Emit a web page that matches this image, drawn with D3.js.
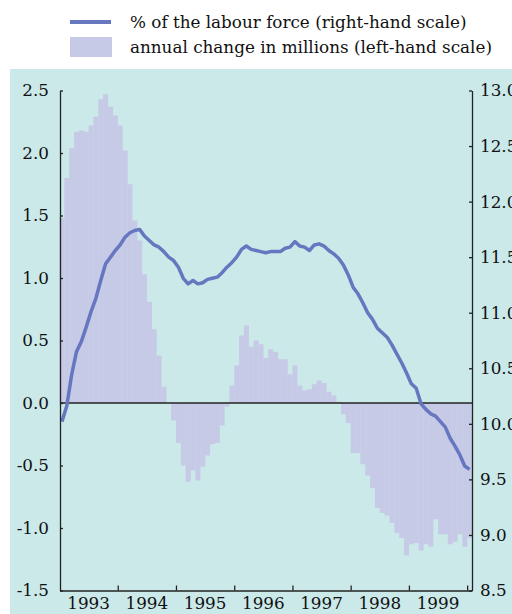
<!DOCTYPE html>
<html>
<head>
<meta charset="utf-8">
<script src="https://cdn.jsdelivr.net/npm/d3@7"></script>
<style>
  body { margin: 0; background: #fff; }
</style>
</head>
<body>
<svg id="chart" width="512" height="614"></svg>
<script>
// monthly values, Jan 1993 .. Jan 2000
var changeMillions = [1.48, 1.80, 2.04, 2.17, 2.18, 2.17, 2.22, 2.29, 2.43, 2.47, 2.37, 2.30,
  2.22, 2.02, 1.75, 1.46, 1.30, 1.03, 0.81, 0.59, 0.38, 0.13, 0.0, -0.14,
  -0.32, -0.50, -0.63, -0.54, -0.62, -0.51, -0.42, -0.33, -0.32, -0.18, -0.03, 0.14,
  0.30, 0.54, 0.62, 0.45, 0.50, 0.47, 0.36, 0.43, 0.41, 0.35, 0.35, 0.23,
  0.30, 0.14, 0.10, 0.11, 0.15, 0.18, 0.16, 0.09, 0.06, 0.01, -0.09, -0.16,
  -0.40, -0.40, -0.49, -0.58, -0.68, -0.84, -0.88, -0.90, -0.96, -1.04, -1.08, -1.22,
  -1.13, -1.12, -1.18, -1.13, -1.15, -0.93, -1.05, -1.05, -1.13, -1.11, -1.05, -1.15,
  -1.08];

var pctLabourForce = [10.02, 10.16, 10.44, 10.65, 10.74, 10.87, 11.01, 11.13, 11.29, 11.44, 11.50, 11.56,
  11.61, 11.68, 11.72, 11.74, 11.75, 11.69, 11.65, 11.61, 11.59, 11.55, 11.50, 11.47,
  11.41, 11.31, 11.26, 11.29, 11.26, 11.27, 11.30, 11.31, 11.32, 11.36, 11.41, 11.45,
  11.50, 11.57, 11.60, 11.57, 11.56, 11.55, 11.54, 11.55, 11.55, 11.55, 11.58, 11.59,
  11.64, 11.60, 11.59, 11.56, 11.61, 11.62, 11.60, 11.56, 11.53, 11.49, 11.43, 11.34,
  11.23, 11.17, 11.09, 11.00, 10.94, 10.86, 10.82, 10.78, 10.71, 10.63, 10.55, 10.46,
  10.36, 10.32, 10.18, 10.13, 10.09, 10.07, 10.02, 9.97, 9.87, 9.80, 9.72, 9.62,
  9.59];

var years = ["1993", "1994", "1995", "1996", "1997", "1998", "1999"];
var leftTicks = [2.5, 2.0, 1.5, 1.0, 0.5, 0.0, -0.5, -1.0, -1.5];
var rightTicks = [13.0, 12.5, 12.0, 11.5, 11.0, 10.5, 10.0, 9.5, 9.0, 8.5];
var legendLabels = ["% of the labour force (right-hand scale)", "annual change in millions (left-hand scale)"];

var barColor = "#c6cae6";
var lineColor = "#6677c0";
var serif = "DejaVu Serif"; // Liberation Serif didn't resolve here
var fontSize = "16.8px";

var svg = d3.select("#chart");

// panel background
svg.append("rect")
  .attr("x", 10).attr("y", 69)
  .attr("width", 502).attr("height", 545)
  .attr("fill", "#cbe9e9");

var x = d3.scaleLinear().domain([0, changeMillions.length]).range([59.5, 472]);
var yLeft = d3.scaleLinear().domain([-1.5, 2.5]).range([590.5, 90.5]);
var yRight = d3.scaleLinear().domain([8.5, 13.0]).range([590.5, 90.5]);

// bars
svg.append("g").selectAll("rect")
  .data(changeMillions)
  .enter()
  .append("rect")
  .attr("x", function(d, i) { return x(i); })
  .attr("width", function(d, i) { return x(i + 1) - x(i) + 0.2; })
  .attr("y", function(d) { return yLeft(Math.max(0, d)); })
  .attr("height", function(d) { return Math.abs(yLeft(d) - yLeft(0)); })
  .attr("fill", barColor);

// zero line
svg.append("line")
  .attr("x1", 60).attr("x2", 472)
  .attr("y1", yLeft(0)).attr("y2", yLeft(0))
  .attr("stroke", "#222").attr("stroke-width", 1.5);

// rate line (right-hand scale)
var line = d3.line()
  .x(function(d, i) { return x(i + 0.5); })
  .y(function(d) { return yRight(d); });

svg.append("path")
  .datum(pctLabourForce)
  .attr("d", line)
  .attr("fill", "none")
  .attr("stroke", lineColor)
  .attr("stroke-width", 3.5)
  .attr("stroke-linejoin", "round");

function fmt(d) { return d.toFixed(1); }

// left axis
svg.append("g")
  .attr("transform", "translate(60,0)")
  .call(d3.axisLeft(yLeft).tickValues(leftTicks).tickFormat(fmt).tickSizeInner(-3).tickSizeOuter(0).tickPadding(11));

// right axis (labels run off the edge, as in the original)
svg.append("g")
  .attr("transform", "translate(472,0)")
  .call(d3.axisRight(yRight).tickValues(rightTicks).tickFormat(fmt).tickSizeInner(-3).tickSizeOuter(0).tickPadding(8));

// bottom axis, ticks at year boundaries
svg.append("g")
  .attr("transform", "translate(0,590.5)")
  .call(d3.axisBottom(x).tickValues([12, 24, 36, 48, 60, 72, 84]).tickFormat("").tickSizeInner(-5).tickSizeOuter(0));

svg.selectAll(".domain").attr("stroke", "#222").attr("stroke-width", 1.3);
svg.selectAll(".tick line").attr("stroke", "#222").attr("stroke-width", 1.3);

// year labels centred on each year
svg.append("g").selectAll("text")
  .data(years)
  .enter()
  .append("text")
  .attr("x", function(d, i) { return x(i * 12 + 6); })
  .attr("y", 609)
  .attr("text-anchor", "middle")
  .text(function(d) { return d; });

// legend
var legend = svg.append("g");
legend.append("line")
  .attr("x1", 70).attr("x2", 111)
  .attr("y1", 22).attr("y2", 22)
  .attr("stroke", lineColor).attr("stroke-width", 4);
legend.append("rect")
  .attr("x", 70).attr("y", 37)
  .attr("width", 42).attr("height", 20)
  .attr("fill", barColor);
legend.selectAll("text")
  .data(legendLabels)
  .enter()
  .append("text")
  .attr("x", 130)
  .attr("y", function(d, i) { return 28 + i * 25; })
  .text(function(d) { return d; });

svg.selectAll("text")
  .attr("font-family", serif)
  .style("font-family", serif)
  .style("font-size", fontSize)
  .attr("fill", "#111");
</script>
</body>
</html>
